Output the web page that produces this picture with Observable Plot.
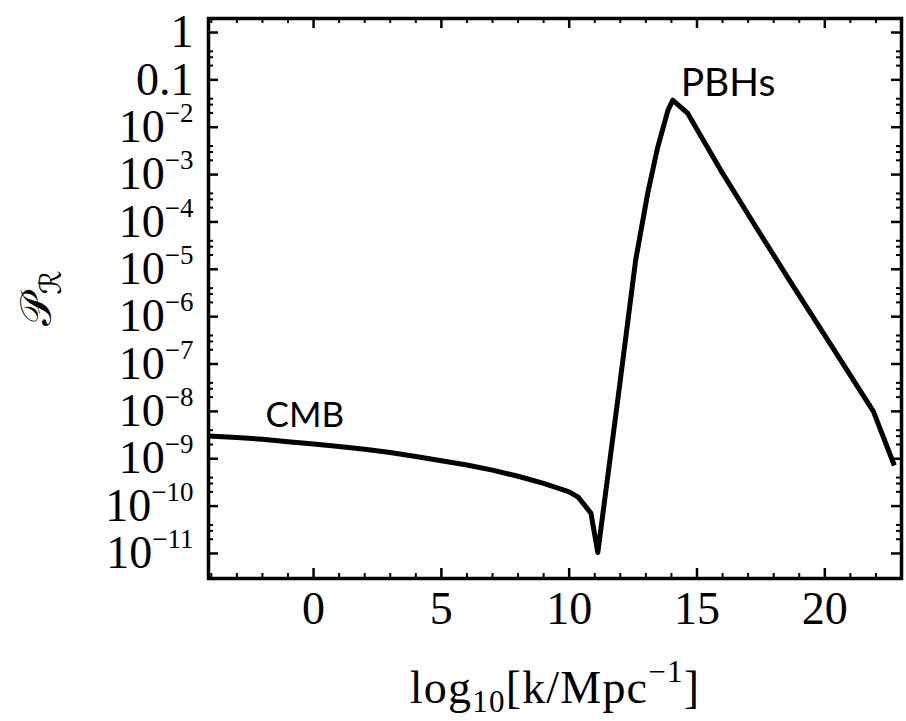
<!DOCTYPE html>
<html>
<head>
<meta charset="utf-8">
<script src="https://cdn.jsdelivr.net/npm/d3@7"></script>
<script src="https://cdn.jsdelivr.net/npm/@observablehq/plot@0.6"></script>
<style>
  html, body { margin: 0; padding: 0; background: #fff; }
  #chart svg { display: block; }
</style>
</head>
<body>
<div id="chart"></div>
<script>
// ---- data ----
const logk = [-4.11, -3, -2, -1, 0, 1, 2, 3, 4, 5, 6, 7, 8, 9, 10, 10.35, 10.85, 11.12,
              11.9, 12.6, 13.07, 13.46, 13.86, 14.05, 14.64, 15.93, 17.3, 18.7, 20.3, 21.9, 22.72];
const powerR = [3.02e-9, 2.82e-9, 2.57e-9, 2.29e-9, 2.04e-9, 1.82e-9, 1.58e-9, 1.35e-9, 1.12e-9,
                9.1e-10, 7.4e-10, 5.75e-10, 4.27e-10, 3.02e-10, 2.0e-10, 1.55e-10, 7.1e-11, 1.05e-11,
                1.74e-8, 1.55e-5, 3.98e-4, 3.72e-3, 2.24e-2, 3.72e-2, 1.95e-2, 1.23e-3, 7.9e-5,
                5.0e-6, 2.24e-7, 1.0e-8, 7.2e-10];

const xMajorTicks = [0, 5, 10, 15, 20];
const xMinorTicks = [-4, -3, -2, -1, 1, 2, 3, 4, 6, 7, 8, 9, 11, 12, 13, 14, 16, 17, 18, 19, 21, 22, 23];
const yMajorTicks = [1, 0.1, 1e-2, 1e-3, 1e-4, 1e-5, 1e-6, 1e-7, 1e-8, 1e-9, 1e-10, 1e-11];
const yTickLabels = ["1", "0.1", "10^{−2}", "10^{−3}", "10^{−4}", "10^{−5}", "10^{−6}",
                     "10^{−7}", "10^{−8}", "10^{−9}", "10^{−10}", "10^{−11}"];
const yMinorMantissas = [2, 3, 4];
const yMinorTicks = yMajorTicks.flatMap(t => yMinorMantissas.map(m => t * m)).filter(v => v < 1.9);

const annText = ["CMB", "PBHs"];
const annX = [-1.88, 14.36];
const annY = [8.1e-9, 0.082];
const annSize = [35, 39];

const xLabel = "log_{10}[k/Mpc^{−1}]";
const yLabel = "𝒫_{ℛ}";

// ---- layout ----
const W = 906, H = 721;
const mL = 208, mR = 5, mT = 18, mB = 143;
const plotW = W - mL - mR, plotH = H - mT - mB;
const serif = "'Liberation Serif', 'Times New Roman', serif";

const curve = logk.map((k, i) => ({k, p: powerR[i]}));
const labelsY = new Map(yMajorTicks.map((t, i) => [t, yTickLabels[i]]));
const ann = annText.map((t, i) => ({t, x: annX[i], y: annY[i], s: annSize[i]}));

const chart = Plot.plot({
  width: W, height: H,
  marginLeft: mL, marginRight: mR, marginTop: mT, marginBottom: mB,
  style: {background: "#fff", color: "#000"},
  x: {domain: [-4.11, 23.0], axis: null},
  y: {type: "log", domain: [2.96e-12, 1.975], axis: null},
  marks: [
    // inward frame ticks
    Plot.tickX(xMajorTicks, {x: d => d, insetTop: plotH - 10, strokeWidth: 2.5}),
    Plot.tickX(xMajorTicks, {x: d => d, insetBottom: plotH - 10, strokeWidth: 2.5}),
    Plot.tickX(xMinorTicks, {x: d => d, insetTop: plotH - 5, strokeWidth: 2}),
    Plot.tickX(xMinorTicks, {x: d => d, insetBottom: plotH - 5, strokeWidth: 2}),
    Plot.tickY(yMajorTicks, {y: d => d, insetRight: plotW - 10, strokeWidth: 2.5}),
    Plot.tickY(yMajorTicks, {y: d => d, insetLeft: plotW - 10, strokeWidth: 2.5}),
    Plot.tickY(yMinorTicks, {y: d => d, insetRight: plotW - 5, strokeWidth: 2}),
    Plot.tickY(yMinorTicks, {y: d => d, insetLeft: plotW - 5, strokeWidth: 2}),
    Plot.frame({stroke: "#000", strokeWidth: 3.5}),
    // tick labels
    Plot.axisX({anchor: "bottom", ticks: xMajorTicks, tickSize: 0, tickPadding: 13,
                fontSize: 46, fontFamily: serif, tickFormat: d => String(d)}),
    Plot.axisY({anchor: "left", ticks: yMajorTicks, tickSize: 0, tickPadding: 15,
                fontSize: 46, fontFamily: serif, tickFormat: d => labelsY.get(d)}),
    // curve
    Plot.line(curve, {x: "k", y: "p", stroke: "#000", strokeWidth: 5,
                      strokeLinejoin: "round", strokeLinecap: "butt"}),
    // annotations
    Plot.text(ann, {x: "x", y: "y", text: "t", fontSize: d => d.s, textAnchor: "start",
                    lineAnchor: "middle", fontFamily: "Lato, 'Open Sans', sans-serif", fill: "#000"}),
    // axis titles
    Plot.text([xLabel], {frameAnchor: "bottom", dy: 110, text: d => d, fontSize: 46,
                         fontFamily: serif, textAnchor: "middle", lineAnchor: "middle"}),
    Plot.text([yLabel], {frameAnchor: "left", dx: -172, rotate: -90, text: d => d, fontSize: 44,
                         fontFamily: "'DejaVu Serif', 'DejaVu Sans', serif", textAnchor: "middle",
                         lineAnchor: "middle"})
  ]
});

// rich text: ^{...} superscript, _{...} subscript
const NS = "http://www.w3.org/2000/svg";
function richify(el, scriptSize, supShift, subShift) {
  const s = el.textContent;
  el.textContent = "";
  const re = /([\^_])\{([^}]*)\}|([^\^_]+)/g;
  let m, cur = 0;
  while ((m = re.exec(s))) {
    const ts = document.createElementNS(NS, "tspan");
    let target = 0;
    if (m[3]) { ts.textContent = m[3]; }
    else {
      ts.textContent = m[2];
      ts.setAttribute("font-size", scriptSize);
      target = m[1] === "^" ? -supShift : subShift;
    }
    if (target - cur !== 0) ts.setAttribute("dy", target - cur);
    cur = target;
    el.appendChild(ts);
  }
}
chart.querySelectorAll("text").forEach(t => {
  const s = t.textContent;
  if (!/[\^_]\{/.test(s)) return;
  if (s.startsWith("log")) { richify(t, 31, 21, 9); t.setAttribute("letter-spacing", "1.2"); }
  else if (s.startsWith("10")) richify(t, 27, 20, 10);
  else richify(t, 30, 12, 10);
});

document.getElementById("chart").appendChild(chart);
</script>
</body>
</html>
